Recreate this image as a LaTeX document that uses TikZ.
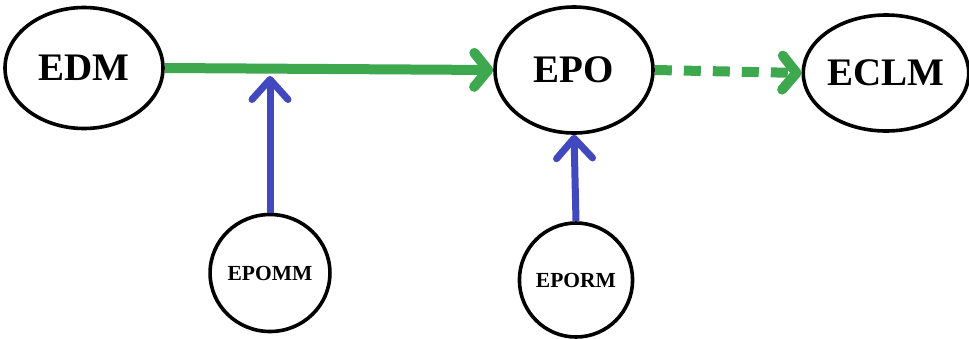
\documentclass[tikz,border=0pt]{standalone}
\usepackage{fontspec}
\setmainfont{Liberation Serif}
\usetikzlibrary{shapes.geometric,arrows.meta}
\definecolor{lgreen}{RGB}{62,168,78}
\definecolor{lblue}{RGB}{66,72,190}
\begin{document}
\begin{tikzpicture}[x=1pt,y=-1pt,
  oval/.style={ellipse,draw=black,line width=3.6pt,inner sep=0pt,fill=white},
  bigtxt/.style={font=\fontsize{39}{40}\selectfont\bfseries},
  smalltxt/.style={font=\fontsize{21.5}{22}\selectfont\bfseries},
  garrow/.style={draw=lgreen,line width=10pt,-{Straight Barb[length=14pt,width=34pt,line cap=round,line join=round]}},
  barrow/.style={draw=lblue,line width=7pt,-{Straight Barb[length=20pt,width=36pt,line cap=round,line join=round]}}]
\useasboundingbox (0,0) rectangle (969,338);
\node[oval,bigtxt,minimum width=158pt,minimum height=121pt] (EDM) at (84,68) {EDM};
\node[oval,bigtxt,minimum width=158pt,minimum height=126pt] (EPO) at (574,70) {EPO};
\node[oval,bigtxt,minimum width=153pt,minimum height=116pt] (ECLM) at (886,73) {ECLM};
\node[oval,smalltxt,minimum width=105pt,minimum height=117pt] (EPOMM) at (270,273) {EPOMM};
\node[oval,smalltxt,minimum width=105pt,minimum height=114pt] (EPORM) at (576,280) {EPORM};
\coordinate (J) at (270,76);
\draw[garrow] (EDM.east) -- (EPO.west);
\draw[garrow,dash pattern=on 17pt off 12pt] (EPO.east) -- (ECLM.west);
\draw[barrow] (EPOMM.north) -- (J);
\draw[barrow] (EPORM.north) -- (EPO.south);
\end{tikzpicture}
\end{document}
